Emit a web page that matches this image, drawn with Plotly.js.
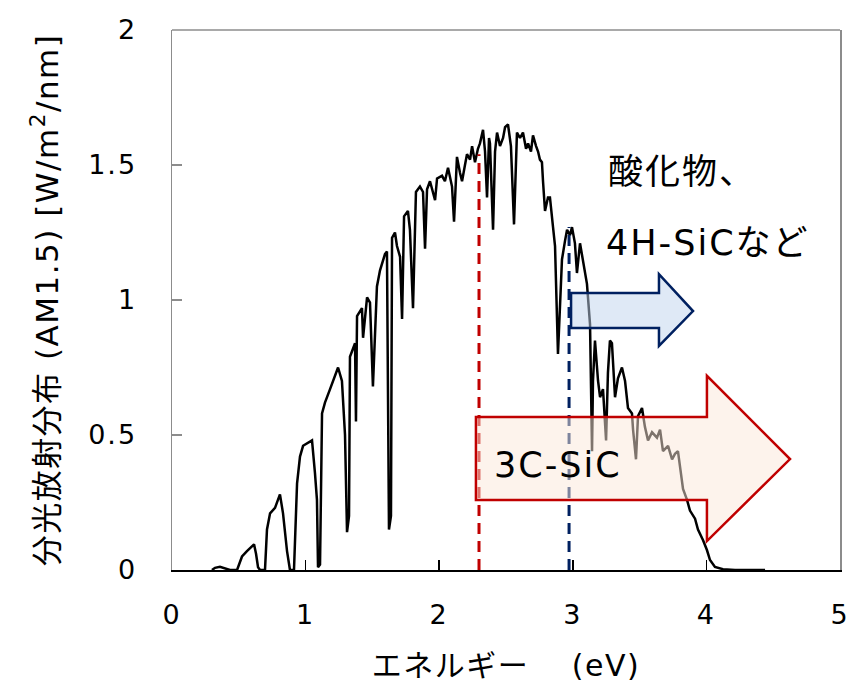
<!DOCTYPE html>
<html>
<head>
<meta charset="utf-8">
<script src="https://cdn.plot.ly/plotly-3.0.1.min.js"></script>
<style>
html,body{margin:0;padding:0;background:#fff;}
#chart{width:852px;height:691px;}
#chart .annotation-text{letter-spacing:2px;}
#chart .ytitle, #chart .xtitle{letter-spacing:1.5px;}
#chart .xtick text, #chart .ytick text{letter-spacing:2px;}
</style>
</head>
<body>
<div id="chart"></div>
<script>
// AM1.5 spectral irradiance vs photon energy
const energyEV = [
 0.299,0.322,0.359,0.404,0.434,0.487,0.524,0.561,0.599,0.614,0.629,0.644,0.659,0.696,0.711,0.734,0.771,0.793,0.808,0.831,
 0.861,0.883,0.913,0.936,0.958,0.981,1.010,1.048,1.070,1.085,1.093,1.108,1.123,1.145,1.183,1.220,1.243,1.272,1.295,1.310,
 1.325,1.332,1.370,1.377,1.385,1.422,1.430,1.460,1.482,1.504,1.534,1.557,1.594,1.609,1.624,1.639,1.647,1.669,1.684,1.707,
 1.722,1.737,1.766,1.781,1.804,1.826,1.856,1.879,1.894,1.909,1.931,1.969,1.984,2.021,2.043,2.066,2.081,2.096,2.111,2.133,
 2.156,2.171,2.193,2.208,2.231,2.246,2.268,2.290,2.305,2.328,2.343,2.358,2.373,2.380,2.403,2.418,2.433,2.455,2.478,2.493,
 2.515,2.537,2.560,2.582,2.605,2.627,2.650,2.665,2.687,2.702,2.725,2.740,2.754,2.769,2.777,2.792,2.814,2.829,2.852,2.867,
 2.889,2.904,2.919,2.942,2.957,2.979,2.994,3.016,3.031,3.054,3.076,3.106,3.129,3.144,3.151,3.166,3.189,3.204,3.226,3.249,
 3.263,3.278,3.293,3.316,3.338,3.368,3.391,3.413,3.443,3.451,3.473,3.488,3.518,3.540,3.563,3.593,3.630,3.653,3.675,3.713,
 3.743,3.765,3.787,3.810,3.825,3.855,3.877,3.915,3.937,3.975,4.004,4.027,4.064,4.124,4.214,4.439
];
const irradiance = [
 0.000,0.008,0.012,0.006,0.000,0.000,0.050,0.070,0.090,0.095,0.060,0.010,0.000,0.000,0.150,0.210,0.230,0.260,0.280,0.210,
 0.070,0.000,0.000,0.320,0.420,0.460,0.470,0.480,0.360,0.260,0.010,0.020,0.580,0.620,0.670,0.720,0.750,0.700,0.500,0.140,
 0.200,0.790,0.840,0.550,0.940,0.970,0.860,1.010,0.990,0.680,1.050,1.110,1.170,1.180,0.150,0.200,1.230,1.250,1.200,1.160,
 0.930,1.310,1.330,1.260,0.970,1.400,1.420,1.400,1.190,1.410,1.440,1.370,1.450,1.460,1.440,1.490,1.450,1.420,1.290,1.530,
 1.470,1.440,1.500,1.540,1.520,1.570,1.510,1.560,1.580,1.630,1.550,1.380,1.600,1.580,1.260,1.550,1.620,1.570,1.600,1.640,
 1.650,1.570,1.280,1.620,1.600,1.620,1.560,1.580,1.550,1.610,1.570,1.550,1.520,1.510,1.440,1.330,1.380,1.380,1.270,1.200,
 0.800,1.000,1.150,1.220,1.260,1.240,1.270,1.210,1.100,1.210,1.140,1.060,0.910,0.440,0.700,0.850,0.700,0.640,0.670,0.480,
 0.730,0.850,0.840,0.640,0.710,0.750,0.700,0.600,0.580,0.520,0.410,0.570,0.600,0.530,0.480,0.510,0.490,0.520,0.440,0.460,
 0.410,0.430,0.440,0.360,0.300,0.260,0.220,0.190,0.150,0.110,0.074,0.037,0.011,0.003,0.000,0.000
];
// band-gap marker lines
const gapEnergy = [2.298, 2.972];
const gapTop = [1.54, 1.27];
const gapColors = ['#c00000', '#002060'];
// annotation labels
const labelTexts = ['酸化物、', '4H-SiCなど', '3C-SiC'];
const labelX = [3.278, 3.293, 2.44];
const labelY = [1.474, 1.211, 0.389];

const latin = '"DejaVu Sans", "Noto Sans CJK JP", sans-serif';

const traces = [
  {x: energyEV, y: irradiance, type: 'scatter', mode: 'lines',
   line: {color: '#000000', width: 2.5}, hoverinfo: 'skip', showlegend: false}
];
gapEnergy.forEach((e, i) => {
  traces.push({x: [e, e], y: [0, gapTop[i]], type: 'scatter', mode: 'lines',
    line: {color: gapColors[i], width: 3, dash: '11px,7px'}, showlegend: false, hoverinfo: 'skip'});
});

const annotations = labelTexts.map((t, i) => ({
  x: labelX[i], y: labelY[i], xref: 'x', yref: 'y', text: t, showarrow: false,
  xanchor: 'left', yanchor: 'middle', font: {family: latin, size: 35, color: '#000'}
}));

const shapes = [
  // top frame line
  {type: 'line', xref: 'paper', yref: 'paper', x0: 0, x1: 1, y0: 1, y1: 1,
   line: {color: '#8c8c8c', width: 1.5}, layer: 'below'},
  // 3C-SiC arrow
  {type: 'path', xref: 'x', yref: 'y', layer: 'above',
   path: 'M 2.275,0.567 L 4.004,0.567 L 4.004,0.719 L 4.626,0.411 L 4.004,0.107 L 4.004,0.259 L 2.275,0.259 Z',
   fillcolor: 'rgba(251,231,217,0.5)', line: {color: '#c00000', width: 2.5}},
  // 4H-SiC arrow
  {type: 'path', xref: 'x', yref: 'y', layer: 'above',
   path: 'M 2.987,1.026 L 3.645,1.026 L 3.645,1.096 L 3.900,0.959 L 3.645,0.830 L 3.645,0.896 L 2.987,0.896 Z',
   fillcolor: 'rgba(191,211,237,0.5)', line: {color: '#002060', width: 2.5}}
];

const layout = {
  width: 852, height: 691,
  margin: {l: 172, r: 12, t: 30, b: 121},
  paper_bgcolor: '#ffffff', plot_bgcolor: '#ffffff',
  showlegend: false,
  font: {family: latin, color: '#000'},
  xaxis: {
    range: [0, 5], dtick: 1, tick0: 0, showgrid: false, zeroline: false,
    ticks: 'inside', ticklen: 10, tickwidth: 1.5, tickcolor: '#000',
    showline: true, linecolor: '#000', linewidth: 2,
    ticklabelstandoff: 20,
    tickfont: {family: latin, size: 27, color: '#000'},
    title: {text: 'エネルギー　 (eV)', font: {family: latin, size: 30, color: '#000'}, standoff: 26}
  },
  yaxis: {
    range: [0, 2], dtick: 0.5, tick0: 0, showgrid: false, zeroline: false,
    ticks: 'inside', ticklen: 10, tickwidth: 1.5, tickcolor: '#8c8c8c',
    showline: true, linecolor: '#8c8c8c', linewidth: 1.5, mirror: true,
    ticklabelstandoff: 28,
    tickfont: {family: latin, size: 27, color: '#000'},
    title: {text: '分光放射分布 (AM1.5) [W/m<sup>2</sup>/nm]', font: {family: latin, size: 31, color: '#000'}, standoff: 26}
  },
  annotations: annotations,
  shapes: shapes
};

Plotly.newPlot('chart', traces, layout, {staticPlot: true, displayModeBar: false});
</script>
</body>
</html>
